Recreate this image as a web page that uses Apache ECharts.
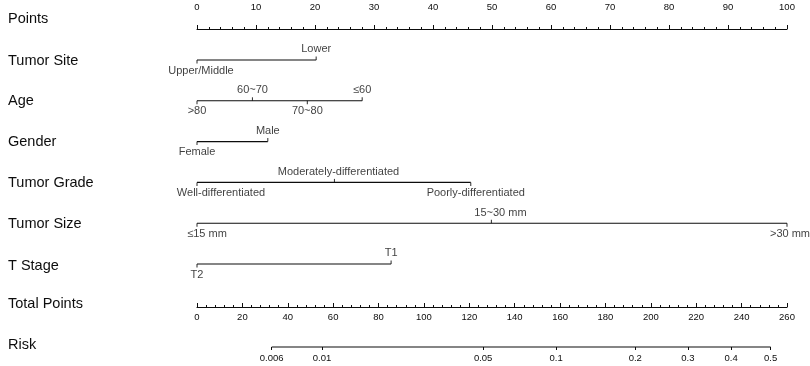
<!DOCTYPE html>
<html>
<head>
<meta charset="utf-8">
<script src="https://cdn.jsdelivr.net/npm/echarts@6/dist/echarts.min.js"></script>
<style>
  html, body { margin: 0; padding: 0; background: #fff; }
  #chart { width: 810px; height: 366px; }
</style>
</head>
<body>
<div id="chart"></div>
<script>
// row names down the left side
var rowTitles = ['Points', 'Tumor Site', 'Age', 'Gender', 'Tumor Grade', 'Tumor Size', 'T Stage', 'Total Points', 'Risk'];

// predictor levels and the points they score
var siteLevels = ['Upper/Middle', 'Lower'];
var sitePoints = [0, 20.2];
var ageLevels = ['>80', '60~70', '70~80', '≤60'];
var agePoints = [0, 9.4, 18.7, 28];
var genderLevels = ['Female', 'Male'];
var genderPoints = [0, 12];
var gradeLevels = ['Well-differentiated', 'Moderately-differentiated', 'Poorly-differentiated'];
var gradePoints = [0, 23.3, 46.4];
var sizeLevels = ['≤15 mm', '15~30 mm', '>30 mm'];
var sizePoints = [0, 49.9, 100];
var stageLevels = ['T2', 'T1'];
var stagePoints = [0, 32.9];

// risk scale (logistic on total points)
var riskTicks = [0.006, 0.01, 0.05, 0.1, 0.2, 0.3, 0.4, 0.5];
var riskIntercept = -5.875;
var riskSlope = 0.02324;

var predictors = [
    [siteLevels, sitePoints],
    [ageLevels, agePoints],
    [genderLevels, genderPoints],
    [gradeLevels, gradePoints],
    [sizeLevels, sizePoints],
    [stageLevels, stagePoints]
];

// small horizontal nudges of some level labels, as in the figure
var labelShift = {
    'Well-differentiated': 24, 'Moderately-differentiated': 4, 'Poorly-differentiated': 5,
    'Upper/Middle': 4, '≤15 mm': 10, '15~30 mm': 9, '>30 mm': 3
};
var titleY = [18, 60, 100, 141, 182, 223, 265, 303, 344];

var ink = '#0d0d0d';
var numFont = 'Liberation Sans, Arial, sans-serif';
var txtFont = 'Liberation Sans, Noto Sans CJK SC, sans-serif';

function tpOfRisk(p) {
    return (Math.log(p / (1 - p)) - riskIntercept) / riskSlope;
}
var riskTP = riskTicks.map(tpOfRisk);

var chart = echarts.init(document.getElementById('chart'));

var series = [];
predictors.forEach(function (row, i) {
    var levels = row[0], pts = row[1];
    var maxP = Math.max.apply(null, pts);
    series.push({
        type: 'line', xAxisIndex: 1, yAxisIndex: 1, silent: true, clip: false,
        symbol: 'none', lineStyle: { color: ink, width: 1.1 },
        data: [[0, i], [maxP, i]]
    });
    series.push({
        type: 'scatter', xAxisIndex: 1, yAxisIndex: 1, silent: true, clip: false,
        symbol: 'rect', symbolSize: [1.1, 3.5], itemStyle: { color: ink },
        data: pts.map(function (p, j) {
            return { value: [p, i], symbolOffset: [0, j % 2 ? -1.75 : 1.75] };
        })
    });
    series.push({
        type: 'scatter', xAxisIndex: 1, yAxisIndex: 1, silent: true, clip: false,
        symbolSize: 0.1, itemStyle: { color: 'rgba(0,0,0,0)' },
        label: { show: true, formatter: '{b}', distance: 5, fontSize: 11, fontFamily: txtFont, color: ink },
        data: levels.map(function (l, j) {
            return {
                name: l, value: [pts[j], i],
                label: { position: j % 2 ? 'top' : 'bottom', offset: [labelShift[l] || 0, 0] }
            };
        })
    });
});

// risk axis line between the smallest and largest risk tick
series.push({
    type: 'line', xAxisIndex: 3, yAxisIndex: 3, silent: true, clip: false,
    symbol: 'none', lineStyle: { color: ink, width: 1.1 },
    data: [[riskTP[0], 0], [riskTP[riskTP.length - 1], 0]]
});

var hiddenY = function (idx, extra) {
    return Object.assign({ gridIndex: idx, type: 'value', show: false, min: 0, max: 1 }, extra || {});
};

chart.setOption({
    animation: false,
    backgroundColor: '#fff',
    graphic: rowTitles.map(function (t, i) {
        return {
            type: 'text', x: 8, y: titleY[i] + 0.5, silent: true,
            style: { text: t, fontSize: 14.5, fontFamily: txtFont, fill: ink, verticalAlign: 'middle' }
        };
    }),
    grid: [
        { left: 197, width: 590, top: 19, height: 10 },
        { left: 197, width: 590, top: 60, height: 204 },
        { left: 197, width: 590, top: 297, height: 10 },
        { left: 197, width: 590, top: 337, height: 10 }
    ],
    xAxis: [
        {
            gridIndex: 0, type: 'value', position: 'top', min: 0, max: 100, interval: 10,
            axisLine: { show: true, lineStyle: { color: ink, width: 1.1 } },
            axisTick: { show: true, length: 4, lineStyle: { color: ink } },
            minorTick: { show: true, splitNumber: 5, length: 2, lineStyle: { color: ink } },
            axisLabel: { margin: 7, fontSize: 9.5, fontFamily: numFont, color: ink },
            splitLine: { show: false }
        },
        { gridIndex: 1, type: 'value', show: false, min: 0, max: 100 },
        {
            gridIndex: 2, type: 'value', position: 'bottom', min: 0, max: 260, interval: 20,
            axisLine: { show: true, lineStyle: { color: ink, width: 1.1 } },
            axisTick: { show: true, inside: true, length: 4, lineStyle: { color: ink } },
            minorTick: { show: true, splitNumber: 5, length: 2, lineStyle: { color: ink } },
            axisLabel: { margin: 5.5, fontSize: 9.5, fontFamily: numFont, color: ink },
            splitLine: { show: false }
        },
        {
            gridIndex: 3, type: 'value', position: 'bottom', min: 0, max: 260,
            axisLine: { show: false },
            axisTick: { show: true, length: 3, customValues: riskTP, lineStyle: { color: ink } },
            axisLabel: {
                margin: 6.5, fontSize: 9.5, fontFamily: numFont, color: ink, customValues: riskTP,
                formatter: function (v) {
                    var p = 1 / (1 + Math.exp(-(riskIntercept + riskSlope * v)));
                    return String(Number(p.toPrecision(1)));
                }
            },
            splitLine: { show: false }
        }
    ],
    yAxis: [
        hiddenY(0),
        hiddenY(1, { min: 0, max: 5, inverse: true }),
        hiddenY(2),
        hiddenY(3)
    ],
    series: series
});
</script>
</body>
</html>
